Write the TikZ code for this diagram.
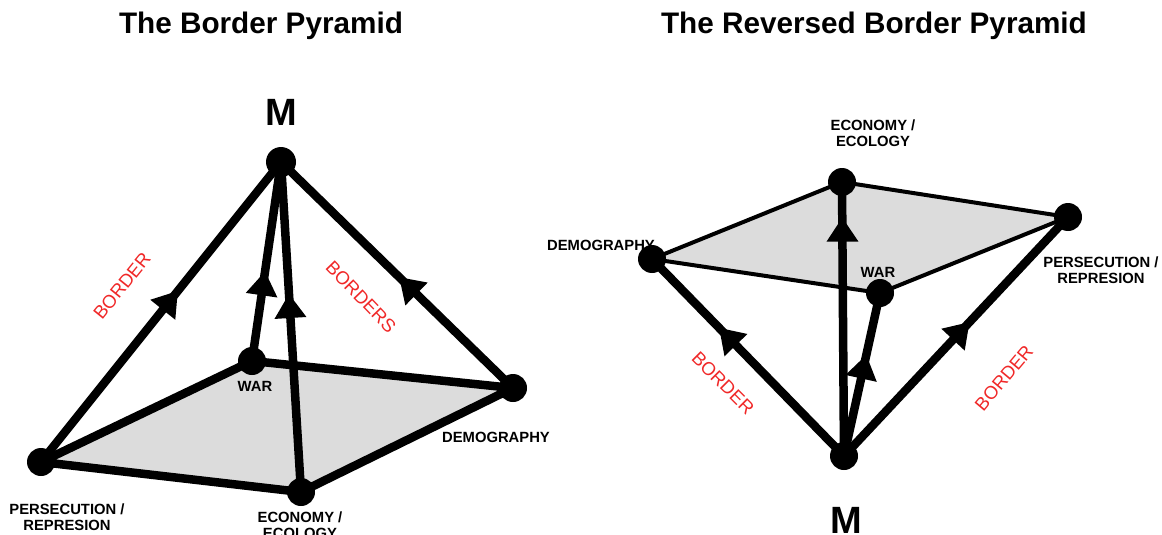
\documentclass[tikz,border=0pt]{standalone}
\usepackage{fontspec}
\setmainfont{Liberation Sans}
\usetikzlibrary{decorations.markings}
\definecolor{basegray}{RGB}{220,220,220}
\definecolor{bordred}{RGB}{240,40,40}
\pgfdeclarelayer{bg}
\pgfsetlayers{bg,main}
\begin{document}
\begin{tikzpicture}[x=1pt,y=-1pt,
  dot/.style={circle,fill=black,inner sep=0pt,minimum size=28pt},
  heavy/.style={line width=8.5pt,line join=round,line cap=round},
  light/.style={line width=4pt,line join=round},
  midarrow/.style={postaction={decorate},decoration={markings,
     mark=at position #1 with {\fill (0,0) -- (-24pt,16pt) -- (-24pt,-16pt) -- cycle;}}},
  lbl/.style={font=\bfseries\fontsize{14.8}{16}\selectfont,align=center,inner sep=0pt},
  redlbl/.style={text=bordred,font=\fontsize{18.5}{20}\selectfont,inner sep=0pt},
  ttl/.style={font=\bfseries\fontsize{29.7}{31}\selectfont,inner sep=0pt},
  apexlbl/.style={font=\bfseries\fontsize{38}{40}\selectfont,inner sep=0pt}]
\useasboundingbox (0,0) rectangle (1162,535);

% ---------- titles
\node[ttl] (t1) at (261,26) {The Border Pyramid};
\node[ttl] (t2) at (874,26) {The Reversed Border Pyramid};

% ---------- left labels
\node[apexlbl] (lMl) at (281,112) {M};
\node[lbl] (lWl) at (255,386) {WAR};
\node[lbl] (lDl) at (496,437) {DEMOGRAPHY};
\node[lbl] (lPl) at (67,517) {PERSECUTION /\\REPRESION};
\node[lbl] (lEl) at (300,525) {ECONOMY /\\ECOLOGY};
\node[redlbl,rotate=51] (lb1) at (122,286) {BORDER};
\node[redlbl,rotate=-46] (lb2) at (361,297) {BORDERS};

% ---------- right labels
\node[apexlbl] (rMl) at (846,520) {M};
\node[lbl] (rEl) at (873,133) {ECONOMY /\\ECOLOGY};
\node[lbl] (rWl) at (878,272) {WAR};
\node[lbl] (rPl) at (1101,270) {PERSECUTION /\\REPRESION};
\node[lbl] (rDl) at (601,245) {DEMOGRAPHY};
\node[redlbl,rotate=-45] (rb1) at (723,383) {BORDER};
\node[redlbl,rotate=50] (rb2) at (1004,378) {BORDER};

% ---------- left dots
\node[dot,minimum size=30pt] (lM) at (281,162) {};
\node[dot] (lW) at (252,361) {};
\node[dot] (lD) at (513,388) {};
\node[dot] (lE) at (301,492) {};
\node[dot] (lP) at (41,462) {};

% ---------- right dots
\node[dot] (rM) at (844,456) {};
\node[dot] (rD) at (652,259) {};
\node[dot] (rE) at (842,182) {};
\node[dot] (rP) at (1068,217) {};
\node[dot] (rW) at (880,293) {};

\begin{pgfonlayer}{bg}
  % left pyramid
  \fill[basegray] (lP.center) -- (lW.center) -- (lD.center) -- (lE.center) -- cycle;
  \draw[heavy] (lP.center) -- (lW.center) -- (lD.center) -- (lE.center) -- cycle;
  \draw[heavy,midarrow=0.57] (lP.center) -- (lM.center);
  \draw[heavy,midarrow=0.45] (lW.center) -- (lM.center);
  \draw[heavy,midarrow=0.60] (lE.center) -- (lM.center);
  \draw[heavy,midarrow=0.49] (lD.center) -- (lM.center);
  % right pyramid
  \fill[basegray] (rD.center) -- (rE.center) -- (rP.center) -- (rW.center) -- cycle;
  \draw[light] (rD.center) -- (rE.center) -- (rP.center) -- (rW.center) -- cycle;
  \draw[heavy,midarrow=0.65] (rM.center) -- (rD.center);
  \draw[heavy,midarrow=0.87] (rM.center) -- (rE.center);
  \draw[heavy,midarrow=0.62] (rM.center) -- (rW.center);
  \draw[heavy,midarrow=0.56] (rM.center) -- (rP.center);
\end{pgfonlayer}
\end{tikzpicture}
\end{document}
